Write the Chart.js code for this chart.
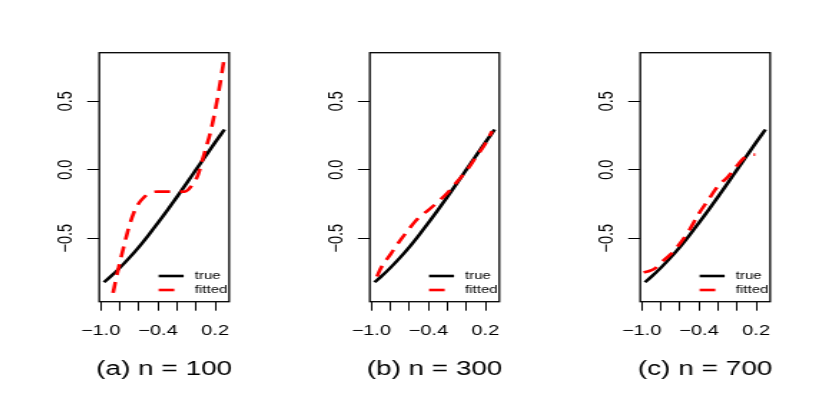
<!DOCTYPE html>
<html>
<head>
<meta charset="utf-8">
<script src="https://cdn.jsdelivr.net/npm/chart.js@4"></script>
<style>
  html, body { margin: 0; padding: 0; background: #fff; }
  #wrap { position: relative; width: 827px; height: 396px; overflow: hidden; }
  canvas { position: absolute; top: 0; }
</style>
</head>
<body>
<div id="wrap">
  <canvas id="pa" width="189" height="396"></canvas>
  <canvas id="pb" width="189" height="396"></canvas>
  <canvas id="pc" width="189" height="396"></canvas>
</div>
<script>
// axis ticks
const xTickValues = [-1.0, -0.8, -0.6, -0.4, -0.2, 0.0, 0.2];
const xTickLabels = ['\u22121.0', '', '', '\u22120.4', '', '', '0.2'];
const yTickValues = [-0.5, 0.0, 0.5];
const yTickLabels = ['\u22120.5', '0.0', '0.5'];

// true curve (same in all panels)
const trueX = [-0.965, -0.9, -0.8, -0.7, -0.6, -0.5, -0.4, -0.3, -0.2, -0.1, 0.0, 0.1, 0.2, 0.297];
const trueY = [-0.822, -0.783, -0.717, -0.644, -0.565, -0.479, -0.389, -0.296, -0.199, -0.100, 0.0, 0.100, 0.199, 0.293];

// fitted curves
const fitAX = [-0.87, -0.84, -0.80, -0.75, -0.70, -0.65, -0.60, -0.55, -0.50, -0.45, -0.40, -0.30, -0.20, -0.12, -0.08, -0.04, 0.0, 0.03, 0.06, 0.10, 0.15, 0.20, 0.25, 0.29];
const fitAY = [-0.90, -0.80, -0.68, -0.54, -0.41, -0.31, -0.245, -0.205, -0.175, -0.162, -0.16, -0.16, -0.16, -0.16, -0.145, -0.11, -0.07, -0.02, 0.055, 0.15, 0.27, 0.43, 0.62, 0.79];

const fitBX = [-0.94, -0.90, -0.80, -0.70, -0.60, -0.50, -0.40, -0.30, -0.20, -0.10, 0.0, 0.10, 0.20, 0.27];
const fitBY = [-0.78, -0.72, -0.62, -0.52, -0.43, -0.35, -0.295, -0.235, -0.17, -0.09, -0.01, 0.09, 0.19, 0.28];

const fitCX = [-0.98, -0.92, -0.86, -0.80, -0.70, -0.60, -0.50, -0.40, -0.30, -0.20, -0.10, 0.0, 0.05, 0.10, 0.15, 0.19];
const fitCY = [-0.75, -0.74, -0.72, -0.68, -0.62, -0.54, -0.44, -0.32, -0.22, -0.12, -0.055, 0.03, 0.07, 0.10, 0.11, 0.11];

const captions = ['(a) n = 100', '(b) n = 300', '(c) n = 700'];
const legendLabels = ['true', 'fitted'];

// the reference is stretched sideways, so each canvas is too
const STRETCH = 1.43;
const boxLefts = [99.3, 369.8, 640.3];
const FONT = '"Liberation Sans", Arial, sans-serif';
Chart.defaults.font.family = FONT;

const decor = {
  id: 'decor',
  afterDraw(chart, args, opts) {
    const { ctx, chartArea: a, scales } = chart;
    ctx.save();
    // box round the plot
    ctx.strokeStyle = '#000';
    ctx.lineWidth = 1.3;
    ctx.strokeRect(a.left, a.top, a.right - a.left, a.bottom - a.top);

    // y tick labels, rotated like R
    ctx.fillStyle = '#000';
    ctx.font = '14.5px ' + FONT;
    ctx.textAlign = 'center';
    ctx.textBaseline = 'middle';
    scales.y.ticks.forEach((t, i) => {
      const py = scales.y.getPixelForValue(t.value);
      ctx.save();
      ctx.translate(a.left - 23, py);
      ctx.rotate(-Math.PI / 2);
      ctx.fillText(yTickLabels[i], 0, 0);
      ctx.restore();
    });

    // legend, bottom right
    const ds = chart.data.datasets;
    ctx.font = '10.5px ' + FONT;
    ctx.textAlign = 'left';
    legendLabels.forEach((lab, i) => {
      const d = ds.find(s => s.label === lab);
      const ly = a.bottom - 25.7 + i * 14;
      ctx.save();
      ctx.strokeStyle = d.borderColor;
      ctx.lineWidth = d.borderWidth;
      ctx.setLineDash(d.borderDash || []);
      ctx.beginPath();
      ctx.moveTo(a.right - 49.2, ly);
      ctx.lineTo(a.right - 31.7, ly);
      ctx.stroke();
      ctx.restore();
      ctx.fillText(lab, a.right - 24, ly);
    });

    // caption under the panel
    ctx.font = '19.5px ' + FONT;
    ctx.textAlign = 'center';
    ctx.fillText(opts.caption, (a.left + a.right) / 2, 369.7);
    ctx.restore();
  }
};

function makeChart(id, k, fitX, fitY) {
  const cv = document.getElementById(id);
  cv.style.width = (189 * STRETCH) + 'px';
  cv.style.height = '396px';
  cv.style.left = (boxLefts[k] - 69.2 * STRETCH) + 'px';

  return new Chart(cv, {
    type: 'line',
    data: {
      datasets: [{
        label: 'true',
        data: trueX.map((x, i) => ({ x: x, y: trueY[i] })),
        borderColor: '#000000',
        borderWidth: 2.6,
        pointRadius: 0,
        cubicInterpolationMode: 'monotone',
        fill: false,
        order: 1
      }, {
        label: 'fitted',
        data: fitX.map((x, i) => ({ x: x, y: fitY[i] })),
        borderColor: '#ff0000',
        borderWidth: 2.6,
        borderDash: [11, 7],
        pointRadius: 0,
        cubicInterpolationMode: 'monotone',
        fill: false,
        order: 0
      }]
    },
    options: {
      responsive: false,
      animation: false,
      devicePixelRatio: 1,
      layout: { padding: { left: 0, right: 29.2, top: 52.7, bottom: 0 } },
      plugins: {
        legend: { display: false },
        tooltip: { enabled: false },
        decor: { caption: captions[k] }
      },
      scales: {
        x: {
          type: 'linear',
          min: -1.015,
          max: 0.347,
          afterBuildTicks: s => { s.ticks = xTickValues.map(v => ({ value: v })); },
          afterFit: s => { s.height = 94.3; },
          grid: { drawOnChartArea: false, drawTicks: true, tickLength: 9, tickColor: '#000', lineWidth: 1 },
          border: { display: false },
          ticks: {
            autoSkip: false, maxRotation: 0, padding: 12, color: '#000',
            font: { size: 14 },
            callback: (v, i) => xTickLabels[i]
          }
        },
        y: {
          type: 'linear',
          min: -0.964,
          max: 0.854,
          afterBuildTicks: s => { s.ticks = yTickValues.map(v => ({ value: v })); },
          afterFit: s => { s.width = 69.2; },
          grid: { drawOnChartArea: false, drawTicks: true, tickLength: 8.4, tickColor: '#000', lineWidth: 1 },
          border: { display: false },
          ticks: { display: false }
        }
      }
    },
    plugins: [decor]
  });
}

makeChart('pa', 0, fitAX, fitAY);
makeChart('pb', 1, fitBX, fitBY);
makeChart('pc', 2, fitCX, fitCY);
</script>
</body>
</html>
